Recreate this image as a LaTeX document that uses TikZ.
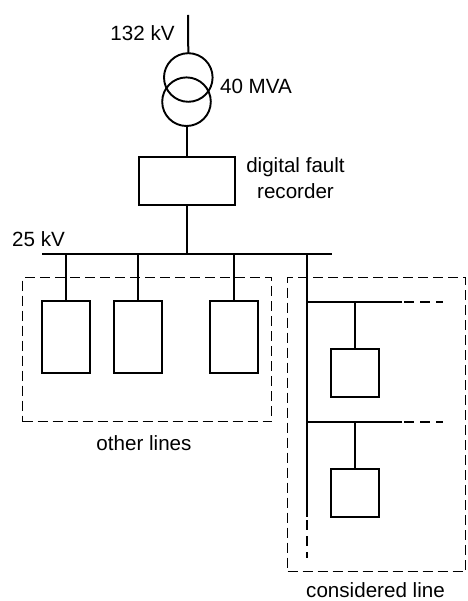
\documentclass[tikz,border=0pt]{standalone}
\usepackage{fontspec}
\setmainfont{Liberation Sans}
\begin{document}
\begin{tikzpicture}[x=1pt,y=-1pt,
  wire/.style={line width=2pt,black},
  box/.style={draw=black,line width=2pt,fill=none,inner sep=0pt,outer sep=0pt,rectangle},
  coil/.style={draw=black,line width=1.9pt,circle,inner sep=0pt,outer sep=0pt,minimum size=48.6pt},
  zone/.style={draw=black,line width=1.15pt,dash pattern=on 10pt off 5pt},
  dashwire/.style={line width=2pt,black,dash pattern=on 10pt off 6pt},
  lbl/.style={font=\fontsize{20.6}{26}\selectfont,align=center,inner sep=0pt,anchor=base}]
\useasboundingbox (0,0) rectangle (467,601);
% dashed zones
\node[zone,rectangle,inner sep=0pt,outer sep=0pt,minimum width=249pt,minimum height=144pt] (zoneA) at (147,349.5) {};
\node[zone,rectangle,inner sep=0pt,outer sep=0pt,minimum width=178pt,minimum height=294pt] (zoneB) at (376.5,424.5) {};
% transformer
\coordinate (top) at (188,15);
\node[coil] (t1) at (188.3,77.5) {};
\node[coil] (t2) at (186.5,101.7) {};
\draw[wire] (top) -- (t1.north);
% recorder
\node[box,minimum width=96pt,minimum height=48pt] (rec) at (187,181) {};
\draw[wire] (t2.south) -- (t2.south |- rec.north);
% bus
\coordinate (busL) at (42,254);
\coordinate (busR) at (332,254);
\draw[wire] (busL) -- (busR);
\draw[wire] (rec.south) -- (rec.south |- busL);
% other lines
\node[box,minimum width=48pt,minimum height=72pt] (l1) at (66,337) {};
\node[box,minimum width=48pt,minimum height=72pt] (l2) at (138,337) {};
\node[box,minimum width=48pt,minimum height=72pt] (l3) at (234,337) {};
\draw[wire] (l1.north) -- (l1.north |- busL);
\draw[wire] (l2.north) -- (l2.north |- busL);
\draw[wire] (l3.north) -- (l3.north |- busL);
% considered line
\coordinate (vtop) at (307,254);
\coordinate (vmid) at (307,517);
\coordinate (vend) at (307,558);
\draw[wire] (vtop) -- (vmid);
\draw[dashwire] (vmid) ++(0,3) -- (vend);
\coordinate (h1a) at (307,302);
\coordinate (h1b) at (402,302);
\coordinate (h1c) at (443,302);
\coordinate (h2a) at (307,422);
\coordinate (h2b) at (402,422);
\coordinate (h2c) at (443,422);
\draw[wire] (h1a) -- (h1b);
\draw[dashwire] (h1b) ++(2,0) -- (h1c);
\draw[wire] (h2a) -- (h2b);
\draw[dashwire] (h2b) ++(2,0) -- (h2c);
\node[box,minimum width=48pt,minimum height=48pt] (c1) at (355,373) {};
\node[box,minimum width=48pt,minimum height=48pt] (c2) at (355,493) {};
\draw[wire] (c1.north) -- (c1.north |- h1a);
\draw[wire] (c2.north) -- (c2.north |- h2a);
% labels
\node[lbl] (t132) at (142.5,40.7) {132 kV};
\node[lbl] (t40) at (256,94) {40 MVA};
\node[lbl] (tdfr) at (295.5,199) {digital fault\\recorder};
\node[lbl] (t25) at (38.5,246.7) {25 kV};
\node[lbl] (tother) at (144,450.7) {other lines};
\node[lbl] (tcons) at (375.5,597.5) {considered line};
\end{tikzpicture}
\end{document}
